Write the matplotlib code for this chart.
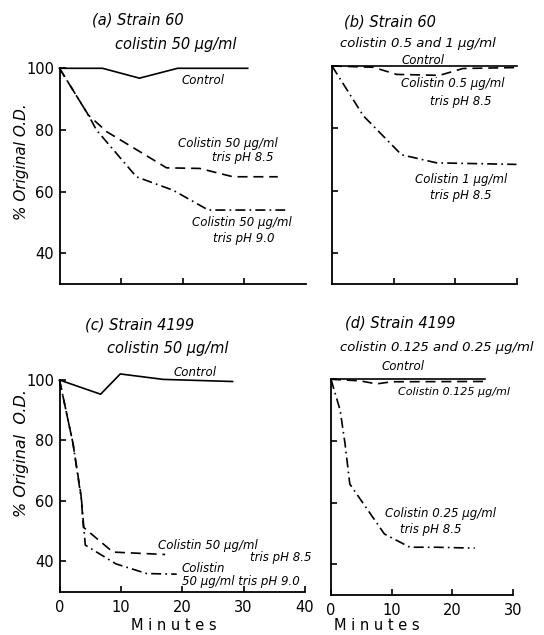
import matplotlib
matplotlib.use("Agg")
import matplotlib.pyplot as plt

W, H = 544, 635

# ---------------- data ----------------
# (a) Strain 60, colistin 50 ug/ml
a_ctrl_x = [0, 7, 13, 19.2, 30.6]
a_ctrl_y = [100, 100, 96.8, 100, 100]
a_p85_x = [0, 4.7, 7.7, 13.1, 17.4, 22.8, 28.2, 35.5]
a_p85_y = [100, 84.8, 79.4, 72.9, 67.7, 67.5, 64.8, 64.8]
a_p90_x = [0, 4.7, 6.0, 12.5, 18.5, 24.2, 36.7]
a_p90_y = [100, 84.8, 80, 64.8, 60.4, 54, 54]

# (b) Strain 60, colistin 0.5 and 1 ug/ml
b_ctrl_x = [0, 30]
b_ctrl_y = [100, 100]
b_c05_x = [0, 6.7, 10.5, 17.5, 21.3, 30]
b_c05_y = [100, 99.6, 97.3, 97.0, 99.2, 99.5]
b_c1_x = [0, 5.1, 11.3, 17, 30]
b_c1_y = [100, 84, 71.5, 68.9, 68.4]

# (c) Strain 4199, colistin 50 ug/ml
c_ctrl_x = [0, 6.7, 9.9, 16.9, 28.2]
c_ctrl_y = [100, 95.3, 102, 100.2, 99.5]
c_p85_x = [0, 2.2, 3.5, 3.9, 8.7, 17.2]
c_p85_y = [100, 79, 62, 51.3, 43.1, 42.3]
c_p90_x = [0, 2.2, 3.6, 4.2, 9.2, 14.2, 19.1]
c_p90_y = [100, 79, 60, 45.4, 39.2, 36, 35.8]

# (d) Strain 4199, colistin 0.125 and 0.25 ug/ml
d_ctrl_x = [0, 25.4]
d_ctrl_y = [100, 100]
d_c0125_x = [0, 4.8, 7.5, 10, 25.4]
d_c0125_y = [100, 99.5, 98.5, 99.2, 99.3]
d_c025_x = [0, 1.5, 2.3, 3.1, 8.8, 13, 17.4, 23.7]
d_c025_y = [100, 90, 79.3, 66, 49.8, 45.5, 45.5, 45.2]

y_ticks = [40, 60, 80, 100]
x_ticks_top = [10, 20, 30]
x_ticks_c = [0, 10, 20, 30, 40]
x_ticks_d = [0, 10, 20, 30]

# ---------------- figure ----------------
fig = plt.figure(figsize=(W / 100, H / 100), dpi=100)
fig.patch.set_facecolor("white")

def px_axes(x0, x1, y_bottom, y_top):
    return fig.add_axes([x0 / W, 1 - y_bottom / H, (x1 - x0) / W, (y_bottom - y_top) / H])

ax_a = px_axes(59.5, 305.5, 284, 68.3)
ax_b = px_axes(332, 516.5, 284, 66)
ax_c = px_axes(59.5, 305, 591.7, 380)
ax_d = px_axes(331, 513, 595, 379.3)

LW = 1.2
solid = dict(color="black", lw=LW, ls="-", clip_on=False)
dashed = dict(color="black", lw=LW, ls=(0, (6, 3.5)), clip_on=False)
dashdot = dict(color="black", lw=LW, ls=(0, (6, 2.5, 1, 2.5)), clip_on=False)

def style(ax, xmax, xticks, xlabels, ylabels):
    ax.set_xlim(0, xmax)
    ax.set_ylim(30, 100)
    for s in ("top", "right"):
        ax.spines[s].set_visible(False)
    for s in ("left", "bottom"):
        ax.spines[s].set_linewidth(1.3)
    ax.set_yticks(y_ticks)
    ax.set_xticks(xticks)
    ax.tick_params(direction="in", length=4, width=1.2, labelsize=10.5,
                   pad=4)
    ax.tick_params(axis="x", pad=6)
    if not xlabels:
        ax.set_xticklabels([])
    if not ylabels:
        ax.set_yticklabels([])
    ax.patch.set_alpha(0)

style(ax_a, 40, x_ticks_top, False, True)
style(ax_b, 30, x_ticks_top, False, False)
style(ax_c, 40, x_ticks_c, True, True)
style(ax_d, 30, x_ticks_d, True, False)

ax_a.plot(a_ctrl_x, a_ctrl_y, **solid)
ax_a.plot(a_p85_x, a_p85_y, **dashed)
ax_a.plot(a_p90_x, a_p90_y, **dashdot)

ax_b.plot(b_ctrl_x, b_ctrl_y, **solid)
ax_b.plot(b_c05_x, b_c05_y, **dashed)
ax_b.plot(b_c1_x, b_c1_y, **dashdot)

ax_c.plot(c_ctrl_x, c_ctrl_y, **solid)
ax_c.plot(c_p85_x, c_p85_y, **dashed)
ax_c.plot(c_p90_x, c_p90_y, **dashdot)

ax_d.plot(d_ctrl_x, d_ctrl_y, **solid)
ax_d.plot(d_c0125_x, d_c0125_y, **dashed)
ax_d.plot(d_c025_x, d_c025_y, **dashdot)

def t(x, y, s, size=8.5, style="italic", ha="left", **kw):
    fig.text(x / W, 1 - y / H, s, fontsize=size, style=style, ha=ha,
             va="center", family="DejaVu Sans", **kw)

# titles
t(92, 20, "(a) Strain 60", 10.5)
t(115, 44, "colistin 50 µg/ml", 10.5)
t(344, 22, "(b) Strain 60", 10.5)
t(340, 44, "colistin 0.5 and 1 µg/ml", 9.5)
t(85, 325, "(c) Strain 4199", 10.5)
t(107, 349, "colistin 50 µg/ml", 10.5)
t(345, 323, "(d) Strain 4199", 10.5)
t(340, 347, "colistin 0.125 and 0.25 µg/ml", 9.5)

# curve labels (a)
t(182, 81, "Control", 8.5)
t(178, 144, "Colistin 50 µg/ml", 8.5)
t(212, 157, "tris pH 8.5", 8.5)
t(192, 223, "Colistin 50 µg/ml", 8.5)
t(213, 239, "tris pH 9.0", 8.5)

# curve labels (b)
t(402, 60, "Control", 8.5)
t(401, 84, "Colistin 0.5 µg/ml", 8.5)
t(430, 101, "tris pH 8.5", 8.5)
t(415, 179, "Colistin 1 µg/ml", 8.5)
t(430, 196, "tris pH 8.5", 8.5)

# curve labels (c)
t(174, 372, "Control", 8.5)
t(158, 545, "Colistin 50 µg/ml", 8.5)
t(250, 558, "tris pH 8.5", 8.5)
t(182, 568, "Colistin", 8.5)
t(182, 582, "50 µg/ml tris pH 9.0", 8.5)

# curve labels (d)
t(382, 367, "Control", 8.5)
t(398, 392, "Colistin 0.125 µg/ml", 8)
t(385, 513, "Colistin 0.25 µg/ml", 8.5)
t(400, 530, "tris pH 8.5", 8.5)

# axis labels
fig.text(22 / W, 1 - 162 / H, "% Original O.D.", rotation=90, fontsize=11,
         style="italic", ha="center", va="center", family="DejaVu Sans")
fig.text(22 / W, 1 - 453 / H, "% Original  O.D.", rotation=90, fontsize=11.5,
         style="italic", ha="center", va="center", family="DejaVu Sans")
t(174, 626, "M i n u t e s", 10.5, style="normal", ha="center")
t(377, 626, "M i n u t e s", 10.5, style="normal", ha="center")

fig.savefig("out.png", dpi=100, facecolor="white")
